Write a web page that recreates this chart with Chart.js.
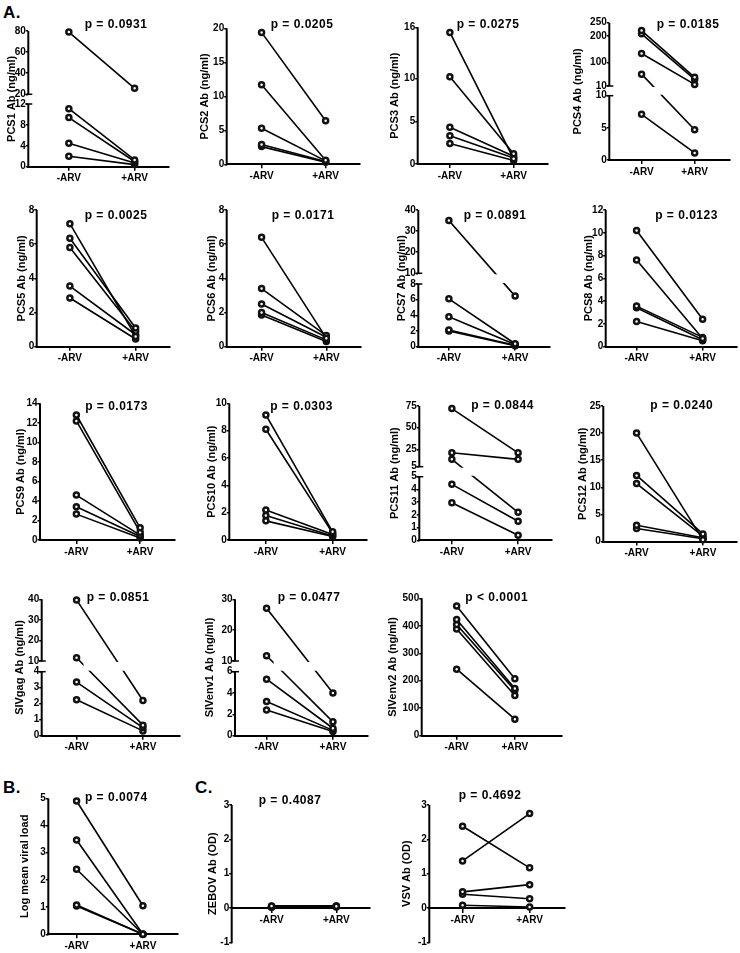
<!DOCTYPE html>
<html>
<head>
<meta charset="utf-8">
<script src="https://cdn.jsdelivr.net/npm/chart.js@4.4.1/dist/chart.umd.min.js"></script>
<style>
    body { margin: 0; width: 740px; height: 953px; position: relative; overflow: hidden; background: #fff; }
    canvas { position: absolute; }
    .tag { position: absolute; font: bold 17px/17px "Liberation Sans", Arial, sans-serif; color: #000; letter-spacing: 0.5px; }
</style>
</head>
<body>
<div class="tag" style="left:3px;top:4px">A.</div>
<div class="tag" style="left:3px;top:779px">B.</div>
<div class="tag" style="left:195px;top:779px">C.</div>
<script>
// 組別
const arv = ['-ARV', '+ARV'];

// 各面板資料（-ARV / +ARV 配對）
const pcs1Ticks = [0, 4, 8, 12, 20, 40, 60, 80];
const pcs1Before = [79, 11.1, 9.4, 4.5, 2.0];
const pcs1After = [25.7, 1.3, 1.0, 0.7, 0.4];

const pcs2Ticks = [0, 5, 10, 15, 20];
const pcs2Before = [19.4, 11.7, 5.3, 2.9, 2.6];
const pcs2After = [6.4, 0.6, 0.5, 0.4, 0.3];

const pcs3Ticks = [0, 5, 10, 16];
const pcs3Before = [15.4, 10.2, 4.3, 3.3, 2.4];
const pcs3After = [0.6, 1.2, 0.9, 0.7, 0.4];

const pcs4Ticks = [0, 5, 10, 10, 100, 200, 250];
const pcs4Before = [220, 208, 133, 55, 7.1];
const pcs4After = [43, 35, 16, 4.7, 1.1];

const pcs5Ticks = [0, 2, 4, 6, 8];
const pcs5Before = [7.2, 6.35, 5.8, 3.55, 2.85];
const pcs5After = [0.6, 1.1, 0.9, 0.7, 0.45];

const pcs6Ticks = [0, 2, 4, 6, 8];
const pcs6Before = [6.4, 3.4, 2.5, 2.0, 1.85];
const pcs6After = [0.5, 0.65, 0.55, 0.4, 0.3];

const pcs7Ticks = [0, 2, 4, 6, 8, 10, 20, 30, 40];
const pcs7Before = [35, 6.1, 3.8, 2.1, 2.0];
const pcs7After = [6.45, 0.35, 0.25, 0.15, 0.1];

const pcs8Ticks = [0, 2, 4, 6, 8, 10, 12];
const pcs8Before = [10.2, 7.6, 3.55, 3.4, 2.2];
const pcs8After = [2.4, 0.7, 0.8, 0.6, 0.5];

const pcs9Ticks = [0, 2, 4, 6, 8, 10, 12, 14];
const pcs9Before = [12.8, 12.2, 4.6, 3.4, 2.65];
const pcs9After = [1.25, 0.8, 0.5, 0.35, 0.2];

const pcs10Ticks = [0, 2, 4, 6, 8, 10];
const pcs10Before = [9.15, 8.1, 2.2, 1.8, 1.4];
const pcs10After = [0.6, 0.5, 0.4, 0.3, 0.25];

const pcs11Ticks = [0, 1, 2, 3, 4, 5, 5, 25, 50, 75];
const pcs11Before = [72, 21, 13.5, 4.4, 2.95];
const pcs11After = [21, 13.5, 2.2, 1.5, 0.4];

const pcs12Ticks = [0, 5, 10, 15, 20, 25];
const pcs12Before = [20, 12.2, 10.7, 3.0, 2.4];
const pcs12After = [0.3, 1.4, 1.0, 0.7, 0.5];

const gagTicks = [0, 1, 2, 3, 4, 10, 20, 30, 40];
const gagBefore = [39.7, 11.6, 3.35, 2.25];
const gagAfter = [2.2, 0.66, 0.5, 0.3];

const env1Ticks = [0, 2, 4, 6, 10, 20, 30];
const env1Before = [27.1, 11.7, 5.3, 3.2, 2.4];
const env1After = [4.0, 1.3, 0.7, 0.5, 0.4];

const env2Ticks = [0, 100, 200, 300, 400, 500];
const env2Before = [472, 423, 405, 388, 242];
const env2After = [207, 172, 165, 146, 60];

const vlTicks = [0, 1, 2, 3, 4, 5];
const vlBefore = [4.9, 3.47, 2.39, 1.08, 1.04];
const vlAfter = [1.05, 0, 0, 0, 0];

const odTicks = [-1, 0, 1, 2, 3];
const zebovBefore = [0.06, 0.05, 0.04, 0.03, 0.02];
const zebovAfter = [0.05, 0.06, 0.04, 0.03, 0.05];
const vsvBefore = [2.38, 1.37, 0.47, 0.4, 0.08];
const vsvAfter = [1.17, 2.75, 0.68, 0.27, 0.03];

// 面板設定（位置為頁面像素）
const panels = [
    { title: 'PCS1 Ab (ng/ml)', p: 'p = 0.0931', ticks: pcs1Ticks, before: pcs1Before, after: pcs1After,
      brk: { lo: [0, 12], hi: [20, 80], loTop: 104, hiBot: 94.3 },
      axisX: 28.3, yTop: 31, yBot: 166.7, xM: 69, xP: 135, xEnd: 169, titleX: 11.8, pX: 116, pY: 25 },
    { title: 'PCS2 Ab (ng/ml)', p: 'p = 0.0205', ticks: pcs2Ticks, before: pcs2Before, after: pcs2After,
      axisX: 226.7, yTop: 28.3, yBot: 164.3, xM: 261.7, xP: 326, xEnd: 360, titleX: 205, pX: 302, pY: 25 },
    { title: 'PCS3 Ab (ng/ml)', p: 'p = 0.0275', ticks: pcs3Ticks, before: pcs3Before, after: pcs3After,
      axisX: 417.7, yTop: 27.3, yBot: 164, xM: 450, xP: 514, xEnd: 548, titleX: 395, pX: 488, pY: 25 },
    { title: 'PCS4 Ab (ng/ml)', p: 'p = 0.0185', ticks: pcs4Ticks, before: pcs4Before, after: pcs4After,
      brk: { lo: [0, 10], hi: [10, 250], loTop: 95.7, hiBot: 86 },
      axisX: 609.3, yTop: 22.7, yBot: 160, xM: 641.7, xP: 695, xEnd: 730, titleX: 578.3, pX: 688, pY: 25 },

    { title: 'PCS5 Ab (ng/ml)', p: 'p = 0.0025', ticks: pcs5Ticks, before: pcs5Before, after: pcs5After,
      axisX: 36.7, yTop: 210, yBot: 346.7, xM: 70, xP: 136, xEnd: 170, titleX: 21.7, pX: 116, pY: 216 },
    { title: 'PCS6 Ab (ng/ml)', p: 'p = 0.0171', ticks: pcs6Ticks, before: pcs6Before, after: pcs6After,
      axisX: 226.7, yTop: 210, yBot: 346.7, xM: 261.7, xP: 326.7, xEnd: 361, titleX: 211.7, pX: 303, pY: 216 },
    { title: 'PCS7 Ab (ng/ml)', p: 'p = 0.0891', ticks: pcs7Ticks, before: pcs7Before, after: pcs7After,
      brk: { lo: [0, 8], hi: [10, 40], loTop: 284, hiBot: 273.3 },
      axisX: 418.3, yTop: 210, yBot: 346.5, xM: 449, xP: 515.5, xEnd: 550, titleX: 401.5, pX: 495, pY: 216 },
    { title: 'PCS8 Ab (ng/ml)', p: 'p = 0.0123', ticks: pcs8Ticks, before: pcs8Before, after: pcs8After,
      axisX: 605.7, yTop: 210, yBot: 346.5, xM: 636.7, xP: 703, xEnd: 737, titleX: 588.5, pX: 686.5, pY: 216 },

    { title: 'PCS9 Ab (ng/ml)', p: 'p = 0.0173', ticks: pcs9Ticks, before: pcs9Before, after: pcs9After,
      axisX: 40, yTop: 403.3, yBot: 540, xM: 76.5, xP: 140.5, xEnd: 175, titleX: 21.2, pX: 116.5, pY: 407 },
    { title: 'PCS10 Ab (ng/ml)', p: 'p = 0.0303', ticks: pcs10Ticks, before: pcs10Before, after: pcs10After,
      axisX: 229.3, yTop: 403.3, yBot: 540, xM: 266, xP: 333, xEnd: 367, titleX: 211.7, pX: 301.5, pY: 407 },
    { title: 'PCS11 Ab (ng/ml)', p: 'p = 0.0844', ticks: pcs11Ticks, before: pcs11Before, after: pcs11After,
      brk: { lo: [0, 5], hi: [5, 75], loTop: 476.7, hiBot: 466.7 },
      axisX: 419.3, yTop: 406, yBot: 540.3, xM: 452, xP: 518.5, xEnd: 552, titleX: 395, pX: 502.5, pY: 406 },
    { title: 'PCS12 Ab (ng/ml)', p: 'p = 0.0240', ticks: pcs12Ticks, before: pcs12Before, after: pcs12After,
      axisX: 603.3, yTop: 406, yBot: 541.5, xM: 636.7, xP: 703.3, xEnd: 737, titleX: 583.3, pX: 681.7, pY: 406 },

    { title: 'SIVgag Ab (ng/ml)', p: 'p = 0.0851', ticks: gagTicks, before: gagBefore, after: gagAfter,
      brk: { lo: [0, 4], hi: [10, 40], loTop: 671.7, hiBot: 661 },
      axisX: 41.7, yTop: 599.3, yBot: 735.7, xM: 76.7, xP: 143.3, xEnd: 180, titleX: 20, pX: 118, pY: 598 },
    { title: 'SIVenv1 Ab (ng/ml)', p: 'p = 0.0477', ticks: env1Ticks, before: env1Before, after: env1After,
      brk: { lo: [0, 6], hi: [10, 30], loTop: 671.7, hiBot: 661 },
      axisX: 235, yTop: 599.3, yBot: 735.7, xM: 266.7, xP: 333.3, xEnd: 368, titleX: 210, pX: 309, pY: 598 },
    { title: 'SIVenv2 Ab (ng/ml)', p: 'p < 0.0001', ticks: env2Ticks, before: env2Before, after: env2After,
      axisX: 421.7, yTop: 598.3, yBot: 735.7, xM: 456.7, xP: 515, xEnd: 561.7, titleX: 393.3, pX: 496.7, pY: 598 },

    { title: 'Log mean viral load', p: 'p = 0.0074', ticks: vlTicks, before: vlBefore, after: vlAfter,
      axisX: 48.3, yTop: 798.3, yBot: 934.3, xM: 76.7, xP: 143.3, xEnd: 178, titleX: 25, pX: 116.3, pY: 798 },
    { title: 'ZEBOV Ab (OD)', p: 'p = 0.4087', ticks: odTicks, before: zebovBefore, after: zebovAfter,
      axisX: 231.7, yTop: 805, yBot: 942.3, xM: 271.7, xP: 336.7, xEnd: 370, titleX: 213.3, pX: 290, pY: 801 },
    { title: 'VSV Ab (OD)', p: 'p = 0.4692', ticks: odTicks, before: vsvBefore, after: vsvAfter,
      axisX: 429.3, yTop: 805, yBot: 942.3, xM: 462.7, xP: 530, xEnd: 565, titleX: 406.7, pX: 490, pY: 796 }
];

Chart.defaults.font.family = '"Liberation Sans", Arial, sans-serif';
Chart.defaults.color = '#000';

const tickFont = { size: 10, weight: 'bold' };
const titleFont = { size: 11, weight: 'bold' };

// 斷軸：把數值換成軸上的位置（像素，由下往上）
function makeAxisMap(pn) {
    if (!pn.brk) return (v) => v;
    const b = pn.brk;
    const hLow = pn.yBot - b.loTop;
    const base = pn.yBot - b.hiBot;
    const hHigh = b.hiBot - pn.yTop;
    return (v, upper) => {
        if (upper || v > b.lo[1]) return base + (v - b.hi[0]) / (b.hi[1] - b.hi[0]) * hHigh;
        return (v - b.lo[0]) / (b.lo[1] - b.lo[0]) * hLow;
    };
}

// 畫一個面板
function drawPanel(pn) {
    const center = pn.ticks[0] < 0;
    const left = Math.floor(pn.titleX - 8);
    const top = Math.floor(Math.min(pn.pY - 10, pn.yTop - 10));
    const right = Math.ceil(pn.xEnd + 6);
    const bottom = Math.ceil(pn.yBot + (center ? 9 : 22));

    const canvas = document.createElement('canvas');
    canvas.width = right - left;
    canvas.height = bottom - top;
    canvas.style.left = left + 'px';
    canvas.style.top = top + 'px';
    document.body.appendChild(canvas);

    const toAxis = makeAxisMap(pn);
    const loCount = pn.brk ? pn.ticks.indexOf(pn.brk.lo[1]) + 1 : pn.ticks.length;
    const tickPos = pn.ticks.map((t, i) => toAxis(t, i >= loCount));
    const yMin = pn.brk ? 0 : pn.ticks[0];
    const yMax = pn.brk ? pn.yBot - pn.yTop : pn.ticks[pn.ticks.length - 1];
    const span = pn.xP - pn.xM;

    const datasets = pn.before.map((b, i) => ({
        data: [{ x: 0, y: toAxis(b, false) }, { x: 1, y: toAxis(pn.after[i], false) }],
        borderColor: '#000',
        borderWidth: 1.6,
        pointRadius: 2.5,
        pointBorderWidth: 2.5,
        pointBackgroundColor: '#fff',
        pointBorderColor: '#111',
        clip: false
    }));

    const decor = {
        id: 'decor',
        beforeDraw(chart) {
            chart.ctx.letterSpacing = '0px';
        },
        afterDatasetsDraw(chart) {
            if (!pn.brk) return;
            // 線穿過斷軸處留白
            const { ctx, scales: { x, y } } = chart;
            const y1 = y.getPixelForValue(toAxis(pn.brk.hi[0], true));
            const y2 = y.getPixelForValue(toAxis(pn.brk.lo[1], false));
            const x1 = x.getPixelForValue(0) + 7;
            const x2 = x.getPixelForValue(1) - 7;
            ctx.save();
            ctx.fillStyle = '#fff';
            ctx.fillRect(x1, y1 + 1, x2 - x1, y2 - y1 - 2);
            ctx.restore();
        },
        afterDraw(chart) {
            const { ctx, chartArea, scales: { y } } = chart;
            const ax = chartArea.left;
            ctx.save();
            ctx.strokeStyle = '#000';
            ctx.lineWidth = 2;
            const segs = pn.brk
                ? [[toAxis(pn.brk.lo[0], false), toAxis(pn.brk.lo[1], false)],
                   [toAxis(pn.brk.hi[0], true), toAxis(pn.brk.hi[1], true)]]
                : [[yMin, yMax]];
            segs.forEach(([a, b], k) => {
                ctx.beginPath();
                ctx.moveTo(ax, y.getPixelForValue(a) + (k === 0 ? 1 : 0));
                ctx.lineTo(ax, y.getPixelForValue(b));
                ctx.stroke();
            });
            if (pn.brk) {
                ctx.lineWidth = 1.5;
                [segs[0][1], segs[1][0]].forEach(v => {
                    const py = y.getPixelForValue(v);
                    ctx.beginPath();
                    ctx.moveTo(ax - 3, py);
                    ctx.lineTo(ax + 4, py);
                    ctx.stroke();
                });
            }
            // p 值
            ctx.font = 'bold 12px "Liberation Sans", Arial, sans-serif';
            ctx.letterSpacing = '0.5px';
            ctx.fillStyle = '#000';
            ctx.textAlign = 'center';
            ctx.textBaseline = 'middle';
            ctx.fillText(pn.p, pn.pX - left, pn.pY - top);
            ctx.restore();
        }
    };

    new Chart(canvas, {
        type: 'line',
        data: { datasets: datasets },
        options: {
            responsive: false,
            maintainAspectRatio: false,
            animation: false,
            layout: {
                padding: { top: pn.yTop - top, left: 0, right: right - pn.xEnd, bottom: center ? bottom - pn.yBot : 0 }
            },
            plugins: { legend: { display: false }, tooltip: { enabled: false } },
            scales: {
                x: {
                    type: 'linear',
                    position: center ? { y: 0 } : 'bottom',
                    min: -(pn.xM - pn.axisX) / span,
                    max: 1 + (pn.xEnd - pn.xP) / span,
                    afterBuildTicks: (s) => { s.ticks = [{ value: 0 }, { value: 1 }]; },
                    afterFit: (s) => { if (!center) s.height = bottom - pn.yBot; },
                    grid: { drawOnChartArea: false, color: '#000', lineWidth: 1.5, tickLength: 4 },
                    border: { color: '#000', width: 2 },
                    ticks: { callback: (v) => arv[v], font: tickFont, padding: 2, maxRotation: 0, autoSkip: false }
                },
                y: {
                    type: 'linear',
                    min: yMin,
                    max: yMax,
                    afterBuildTicks: (s) => { s.ticks = tickPos.map(v => ({ value: v })); },
                    afterFit: (s) => { s.width = pn.axisX - left; },
                    grid: { drawOnChartArea: false, color: '#000', lineWidth: 1.5, tickLength: 2.5 },
                    border: { display: false },
                    ticks: { callback: (v, i) => pn.ticks[i], font: tickFont, padding: 0, autoSkip: false },
                    title: {
                        display: true,
                        text: pn.title,
                        font: titleFont,
                        padding: { top: (pn.titleX - left) - 6.6, bottom: 0 }
                    }
                }
            }
        },
        plugins: [decor]
    });
}

panels.forEach(drawPanel);
</script>
</body>
</html>
